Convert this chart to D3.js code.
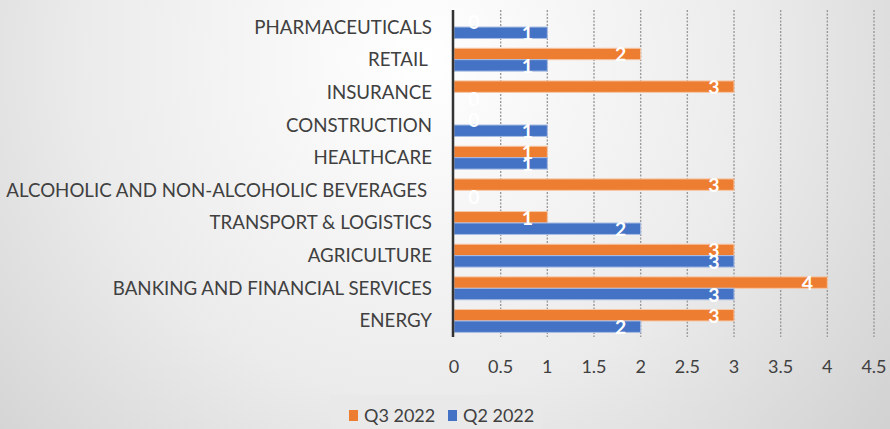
<!DOCTYPE html>
<html>
<head>
<meta charset="utf-8">
<script src="https://cdn.jsdelivr.net/npm/d3@7"></script>
<style>
  html, body { margin: 0; padding: 0; }
  svg { display: block; }
</style>
</head>
<body>
<svg id="chart" width="890" height="429"></svg>
<script>
// categories top -> bottom
const categories = [
  "PHARMACEUTICALS", "RETAIL ", "INSURANCE", "CONSTRUCTION", "HEALTHCARE",
  "ALCOHOLIC AND NON-ALCOHOLIC BEVERAGES ", "TRANSPORT & LOGISTICS", "AGRICULTURE",
  "BANKING AND FINANCIAL SERVICES", "ENERGY"
]
const q3_2022 = [0, 2, 3, 0, 1, 3, 1, 3, 4, 3]
const q2_2022 = [1, 1, 0, 1, 1, 0, 2, 3, 3, 2]
const series_names = ["Q3 2022", "Q2 2022"]
const series_colors = ["#ED7D31", "#4472C4"]
const x_ticks = [0, 0.5, 1, 1.5, 2, 2.5, 3, 3.5, 4, 4.5]

const width = 890, height = 429
const font = "Lato, 'Open Sans', sans-serif"
const svg = d3.select("#chart")

// 背景渐变
const defs = svg.append("defs")
const grad = defs.append("radialGradient")
  .attr("id", "bg").attr("gradientUnits", "userSpaceOnUse")
  .attr("cx", 420).attr("cy", 60).attr("r", 620)
grad.append("stop").attr("offset", "0%").attr("stop-color", "#ffffff")
grad.append("stop").attr("offset", "55%").attr("stop-color", "#ebebeb")
grad.append("stop").attr("offset", "100%").attr("stop-color", "#cfcfcf")
svg.append("rect").attr("width", width).attr("height", height).attr("fill", "url(#bg)")

const x = d3.scaleLinear().domain([0, 4.5]).range([454, 874])
const y = d3.scaleBand().domain(categories).range([10.7, 337.3]).paddingInner(0.3).paddingOuter(0.15)
const sub = d3.scaleBand().domain(series_names).range([0, y.bandwidth()])

// gridlines
svg.append("g").selectAll("line")
  .data(x_ticks.filter(d => d > 0))
  .join("line")
  .attr("x1", d => x(d)).attr("x2", d => x(d))
  .attr("y1", 10).attr("y2", 337)
  .attr("stroke", "#9a9a9a").attr("stroke-width", 1.4)
  .attr("stroke-dasharray", "2,1.5")

// bars
const rows = categories.map((c, i) => ({ cat: c, vals: [q3_2022[i], q2_2022[i]] }))
const group = svg.append("g").selectAll("g")
  .data(rows).join("g")
  .attr("transform", d => `translate(0,${y(d.cat)})`)

group.selectAll("rect")
  .data(d => d.vals.map((v, k) => ({ v, k })))
  .join("rect")
  .attr("x", x(0))
  .attr("y", d => sub(series_names[d.k]))
  .attr("width", d => x(d.v) - x(0))
  .attr("height", sub.bandwidth())
  .attr("fill", d => series_colors[d.k])
  .attr("stroke", d => d.k === 0 ? "#f6c7a6" : "#a9bde3")
  .attr("stroke-width", d => d.v > 0 ? 1 : 0)

group.selectAll("text")
  .data(d => d.vals.map((v, k) => ({ v, k })))
  .join("text")
  .attr("x", d => d.v > 0 ? x(d.v) - 20 : x(0) + 20)
  .attr("y", d => sub(series_names[d.k]) + sub.bandwidth() / 2 + 7.5)
  .attr("text-anchor", "middle")
  .attr("font-family", font)
  .attr("font-size", 19.5)
  .attr("font-weight", "bold")
  .attr("fill", "white")
  .text(d => d.v)

// zero axis line
svg.append("line")
  .attr("x1", x(0) - 1).attr("x2", x(0) - 1)
  .attr("y1", 10).attr("y2", 337)
  .attr("stroke", "#333").attr("stroke-width", 2.5)

// category labels
svg.append("g").selectAll("text")
  .data(categories).join("text")
  .attr("x", 432)
  .attr("y", d => y(d) + y.bandwidth() / 2 + 6.5)
  .attr("text-anchor", "end")
  .attr("xml:space", "preserve")
  .style("white-space", "pre")
  .attr("font-family", font)
  .attr("font-size", 18.7)
  .attr("fill", "#404040")
  .text(d => d)

// x tick labels
svg.append("g").selectAll("text")
  .data(x_ticks).join("text")
  .attr("x", d => x(d))
  .attr("y", 373)
  .attr("text-anchor", "middle")
  .attr("font-family", font)
  .attr("font-size", 18)
  .attr("fill", "#404040")
  .text(d => d)

// legend
const legend = svg.append("g")
legend.append("rect")
  .attr("x", 330).attr("y", 395).attr("width", 212).attr("height", 34)
  .attr("fill", "#e9e9e9").attr("opacity", 0.8)
const legend_x = [349, 448]
series_names.forEach((s, k) => {
  legend.append("rect")
    .attr("x", legend_x[k]).attr("y", 410).attr("width", 9).attr("height", 11)
    .attr("fill", series_colors[k])
  legend.append("text")
    .attr("x", legend_x[k] + 15).attr("y", 422)
    .attr("font-family", font).attr("font-size", 18)
    .attr("fill", "#404040")
    .text(s)
})
</script>
</body>
</html>
